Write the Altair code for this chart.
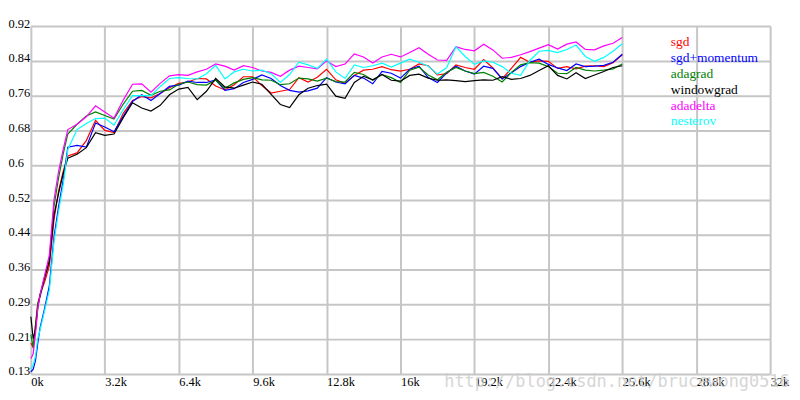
import altair as alt
import pandas as pd

iterations = [0, 100, 200, 300, 400, 600, 800, 1000, 1200, 1400, 1600,
              2000, 2400, 2800, 3200, 3600, 4000, 4400, 4800, 5200, 5600,
              6000, 6400, 6800, 7200, 7600, 8000, 8400, 8800, 9200, 9600,
              10000, 10400, 10800, 11200, 11600, 12000, 12400, 12800, 13200, 13600,
              14000, 14400, 14800, 15200, 15600, 16000, 16400, 16800, 17200, 17600,
              18000, 18400, 18800, 19200, 19600, 20000, 20400, 20800, 21200, 21600,
              22000, 22400, 22800, 23200, 23600, 24000, 24400, 24800, 25200, 25600]

sgd = [0.20, 0.19, 0.24, 0.29, 0.31, 0.34, 0.375, 0.48, 0.545, 0.59, 0.625,
       0.632, 0.660, 0.706, 0.683, 0.678, 0.722, 0.751, 0.760, 0.757, 0.767,
       0.780, 0.790, 0.793, 0.801, 0.800, 0.784, 0.775, 0.787, 0.805, 0.805,
       0.785, 0.768, 0.772, 0.776, 0.803, 0.793, 0.804, 0.822, 0.798, 0.790,
       0.808, 0.820, 0.822, 0.828, 0.821, 0.818, 0.822, 0.834, 0.830, 0.809,
       0.812, 0.832, 0.826, 0.822, 0.844, 0.825, 0.800, 0.824, 0.849, 0.838,
       0.841, 0.840, 0.824, 0.828, 0.823, 0.829, 0.830, 0.828, 0.837, 0.855]

sgd_momentum = [0.135, 0.14, 0.16, 0.20, 0.235, 0.28, 0.33, 0.44, 0.51, 0.57, 0.645,
                0.649, 0.645, 0.700, 0.691, 0.680, 0.715, 0.749, 0.764, 0.751, 0.767,
                0.783, 0.786, 0.795, 0.792, 0.792, 0.798, 0.774, 0.778, 0.792, 0.799,
                0.809, 0.801, 0.785, 0.774, 0.770, 0.773, 0.779, 0.803, 0.793, 0.789,
                0.808, 0.802, 0.789, 0.817, 0.813, 0.802, 0.822, 0.829, 0.803, 0.792,
                0.814, 0.829, 0.818, 0.811, 0.829, 0.824, 0.800, 0.814, 0.828, 0.838,
                0.845, 0.833, 0.825, 0.819, 0.834, 0.828, 0.829, 0.831, 0.838, 0.856]

adagrad = [0.22, 0.19, 0.24, 0.29, 0.305, 0.35, 0.39, 0.51, 0.575, 0.63, 0.675,
           0.697, 0.716, 0.725, 0.717, 0.709, 0.743, 0.772, 0.774, 0.763, 0.772,
           0.775, 0.788, 0.793, 0.787, 0.786, 0.797, 0.779, 0.791, 0.799, 0.803,
           0.798, 0.797, 0.787, 0.789, 0.802, 0.800, 0.795, 0.802, 0.794, 0.793,
           0.815, 0.810, 0.797, 0.810, 0.803, 0.792, 0.820, 0.827, 0.809, 0.798,
           0.815, 0.826, 0.818, 0.812, 0.815, 0.806, 0.793, 0.815, 0.832, 0.837,
           0.836, 0.828, 0.813, 0.812, 0.826, 0.820, 0.818, 0.820, 0.823, 0.834]

windowgrad = [0.26, 0.21, 0.23, 0.28, 0.31, 0.35, 0.385, 0.49, 0.54, 0.585, 0.62,
              0.629, 0.644, 0.678, 0.672, 0.675, 0.712, 0.746, 0.734, 0.727, 0.740,
              0.764, 0.777, 0.781, 0.753, 0.772, 0.801, 0.782, 0.779, 0.786, 0.793,
              0.788, 0.765, 0.742, 0.735, 0.764, 0.779, 0.785, 0.788, 0.761, 0.756,
              0.792, 0.806, 0.798, 0.810, 0.797, 0.795, 0.808, 0.811, 0.802, 0.797,
              0.798, 0.796, 0.794, 0.796, 0.798, 0.797, 0.805, 0.799, 0.801, 0.808,
              0.819, 0.830, 0.808, 0.800, 0.814, 0.801, 0.809, 0.817, 0.826, 0.830]

adadelta = [0.165, 0.175, 0.22, 0.28, 0.31, 0.355, 0.40, 0.525, 0.59, 0.64, 0.685,
            0.697, 0.714, 0.739, 0.725, 0.711, 0.752, 0.788, 0.789, 0.770, 0.790,
            0.807, 0.810, 0.808, 0.816, 0.822, 0.834, 0.829, 0.820, 0.830, 0.826,
            0.818, 0.815, 0.806, 0.820, 0.829, 0.826, 0.823, 0.841, 0.828, 0.834,
            0.857, 0.850, 0.836, 0.850, 0.856, 0.850, 0.860, 0.871, 0.856, 0.843,
            0.842, 0.873, 0.867, 0.864, 0.879, 0.866, 0.847, 0.849, 0.855, 0.862,
            0.870, 0.878, 0.868, 0.879, 0.884, 0.867, 0.866, 0.875, 0.881, 0.894]

nesterov = [0.14, 0.15, 0.17, 0.21, 0.23, 0.275, 0.32, 0.43, 0.50, 0.56, 0.64,
            0.685, 0.699, 0.710, 0.711, 0.695, 0.730, 0.762, 0.762, 0.762, 0.783,
            0.801, 0.803, 0.801, 0.800, 0.812, 0.831, 0.800, 0.816, 0.822, 0.818,
            0.820, 0.812, 0.792, 0.810, 0.838, 0.832, 0.824, 0.845, 0.816, 0.801,
            0.832, 0.826, 0.830, 0.836, 0.827, 0.836, 0.845, 0.838, 0.829, 0.811,
            0.826, 0.873, 0.851, 0.833, 0.841, 0.838, 0.828, 0.813, 0.808, 0.842,
            0.863, 0.865, 0.860, 0.867, 0.877, 0.851, 0.840, 0.849, 0.863, 0.880]

series_names = ["sgd", "sgd+momentum", "adagrad", "windowgrad", "adadelta", "nesterov"]
series_colors = ["#ff0000", "#0000ff", "#008000", "#000000", "#ff00ff", "#00ffff"]
series_values = [sgd, sgd_momentum, adagrad, windowgrad, adadelta, nesterov]

x_ticks = [0, 3200, 6400, 9600, 12800, 16000, 19200, 22400, 25600, 28800, 32000]
y_ticks = [0.13, 0.209, 0.288, 0.367, 0.446, 0.525, 0.604, 0.683, 0.762, 0.841, 0.92]
y_tick_labels = ["0.13", "0.21", "0.29", "0.36", "0.44", "0.52", "0.6", "0.68", "0.76", "0.84", "0.92"]
watermark = "http://blog.csdn.net/brucewong0516"

rows = []
for name, vals in zip(series_names, series_values):
    for it, v in zip(iterations, vals):
        rows.append({"iter": it, "acc": v, "method": name})
df = pd.DataFrame(rows)

legend_df = pd.DataFrame({"method": series_names, "rank": list(range(len(series_names)))})

FONT = "Liberation Serif"
GRID = "#c6c6c6"

label_arr = "[" + ",".join("'%s'" % s for s in y_tick_labels) + "]"
y_label_expr = label_arr + "[round((datum.value - 0.13) / 0.079)]"

color_scale = alt.Scale(domain=series_names, range=series_colors)

lines = alt.Chart(df).mark_line(strokeWidth=1.2).encode(
    x=alt.X("iter:Q",
            scale=alt.Scale(domain=[0, 32000], nice=False, zero=False),
            axis=alt.Axis(values=x_ticks, title=None, grid=True, gridColor=GRID,
                          gridWidth=2, domain=False, ticks=False, tickSize=0,
                          labelAlign="left", labelBaseline="top", labelPadding=2,
                          labelFont=FONT, labelFontSize=12.5, labelColor="#000",
                          labelExpr="datum.value / 1000 + 'k'", labelOverlap=False,
                          labelFlush=False)),
    y=alt.Y("acc:Q",
            scale=alt.Scale(domain=[0.13, 0.92], nice=False, zero=False),
            axis=alt.Axis(values=y_ticks, title=None, grid=True, gridColor=GRID,
                          gridWidth=2, domain=False, ticks=False, tickSize=0,
                          labelAlign="left", labelBaseline="alphabetic", labelPadding=23,
                          labelOffset=1,
                          labelFont=FONT, labelFontSize=12.5, labelColor="#000",
                          labelExpr=y_label_expr, labelOverlap=False, labelFlush=False)),
    color=alt.Color("method:N", scale=color_scale, legend=None),
    order=alt.Order("iter:Q"),
)

legend_text = alt.Chart(legend_df).mark_text(
    align="left", baseline="middle", font=FONT, fontSize=13.5
).encode(
    x=alt.value(644),
    y=alt.Y("rank:Q", scale=alt.Scale(domain=[0, 5], range=[16, 96]), axis=None),
    text="method:N",
    color=alt.Color("method:N", scale=color_scale, legend=None),
)

wm = alt.Chart(pd.DataFrame({"t": [watermark]})).mark_text(
    align="left", baseline="middle", font="DejaVu Sans Mono", fontSize=17,
    color="#cfcfcf", opacity=0.85
).encode(x=alt.value(416), y=alt.value(358), text="t:N")

chart = alt.layer(lines, legend_text, wm).resolve_scale(y="independent").properties(
    width=744, height=350,
    autosize=alt.AutoSizeParams(type="none"),
    padding={"left": 23, "top": 17, "right": 22, "bottom": 20},
).configure_view(stroke=None)

chart.save("out.html", embed_options={"renderer": "svg", "actions": False})
